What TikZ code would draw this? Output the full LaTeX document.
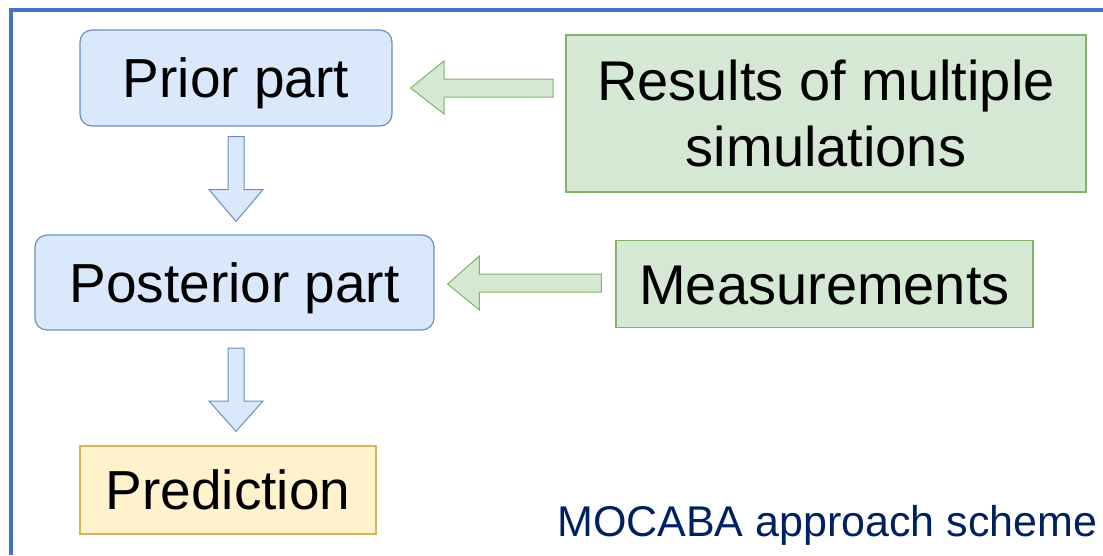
\documentclass[tikz,border=0pt]{standalone}
\usepackage{fontspec}
\setmainfont{Liberation Sans}
\usetikzlibrary{calc}
\definecolor{frameblue}{HTML}{4472C4}
\definecolor{bluefill}{HTML}{DAE8FC}
\definecolor{blueline}{HTML}{6C8EBF}
\definecolor{greenfill}{HTML}{D5E8D4}
\definecolor{greenline}{HTML}{82B366}
\definecolor{yellowfill}{HTML}{FFF2CC}
\definecolor{yellowline}{HTML}{D6B656}
\definecolor{navy}{HTML}{002060}
\tikzset{
  boxtext/.style={font=\fontsize{55}{66}\selectfont, text height=39.5pt, text depth=0pt, inner sep=0pt, align=center},
  bluebox/.style={boxtext, draw=blueline, fill=bluefill, line width=1.2pt, rounded corners=12pt},
  greenbox/.style={boxtext, draw=greenline, fill=greenfill, line width=1.2pt},
  yellowbox/.style={boxtext, draw=yellowline, fill=yellowfill, line width=1.2pt},
  bluearrow/.style={draw=blueline, fill=bluefill, line width=1pt, line join=miter},
  greenarrow/.style={draw=greenline, fill=greenfill, line width=1pt, line join=miter},
}
\begin{document}
\begin{tikzpicture}[x=1pt,y=-1pt]
\useasboundingbox (0,0) rectangle (1103,555);
\fill[white] (0,0) rectangle (1103,555);
% frame
\draw[frameblue, line width=3.2pt] (11,555) -- (11,10) -- (1103,10);

% nodes
\node[bluebox, minimum width=312pt, minimum height=96pt] (prior) at (236,78) {Prior part};
\node[bluebox, minimum width=399pt, minimum height=95pt] (post) at (234.5,282.5) {Posterior part};
\node[yellowbox, minimum width=296pt, minimum height=88pt] (pred) at (228,490) {Prediction};
\node[greenbox, font=\fontsize{56}{66}\selectfont, text height=106pt, minimum width=520pt, minimum height=157pt] (res) at (826,113.5) {Results of multiple\\simulations};
\node[greenbox, font=\fontsize{56}{66}\selectfont, text height=40pt, minimum width=417pt, minimum height=87pt] (meas) at (824.5,284) {Measurements};
\node[font=\fontsize{43}{50}\selectfont, text=navy, anchor=base west, inner sep=0pt] (title) at (557,536) {MOCABA approach scheme};

% block arrows: prior -> posterior
\coordinate (a1s) at ($(prior.south)+(0,10)$);
\coordinate (a1t) at ($(post.north)+(1.5,-13)$);
\draw[bluearrow] ($(a1s)+(-8,0)$) -- ($(a1s)+(8,0)$) -- ($(a1s)+(8,53)$) -- ($(a1s)+(27,53)$)
  -- (a1t) -- ($(a1s)+(-27,53)$) -- ($(a1s)+(-8,53)$) -- cycle;
% posterior -> prediction
\coordinate (a2s) at (236,348);
\coordinate (a2t) at ($(pred.north)+(8,-14)$);
\draw[bluearrow] ($(a2s)+(-8,0)$) -- ($(a2s)+(8,0)$) -- ($(a2s)+(8,53)$) -- ($(a2s)+(27,53)$)
  -- (a2t) -- ($(a2s)+(-27,53)$) -- ($(a2s)+(-8,53)$) -- cycle;
% results -> prior
\coordinate (g1s) at (553,88);
\coordinate (g1t) at ($(prior.east)+(18,10)$);
\draw[greenarrow] ($(g1s)+(0,-9)$) -- ($(g1s)+(-109,-9)$) -- ($(g1s)+(-109,-27)$) -- (g1t)
  -- ($(g1s)+(-109,26)$) -- ($(g1s)+(-109,9)$) -- ($(g1s)+(0,9)$) -- cycle;
% measurements -> posterior
\coordinate (g2s) at ($(meas.west)+(-14,-1)$);
\coordinate (g2t) at ($(post.east)+(13,1.5)$);
\draw[greenarrow] ($(g2s)+(0,-9)$) -- ($(g2s)+(-122,-9)$) -- ($(g2s)+(-122,-27)$) -- (g2t)
  -- ($(g2s)+(-122,27)$) -- ($(g2s)+(-122,9)$) -- ($(g2s)+(0,9)$) -- cycle;
\end{tikzpicture}
\end{document}
